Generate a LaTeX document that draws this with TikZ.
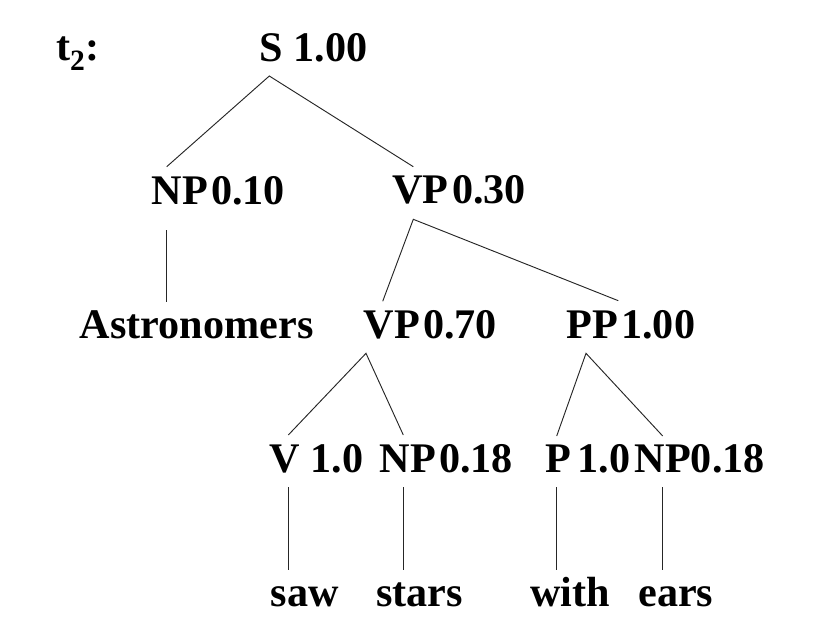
\documentclass[tikz,border=0pt]{standalone}
\usepackage{fontspec}
\setmainfont{Liberation Serif}
\usetikzlibrary{positioning}

\newcommand{\gap}{\hspace{0.08em}}

\begin{document}
\begin{tikzpicture}[
    x=0.03cm, y=-0.03cm,
    label/.style={anchor=base, inner sep=0pt, font=\fontsize{36}{42}\selectfont\bfseries},
    branch/.style={draw, line width=0.8pt, black!85}
]
\useasboundingbox (0,0) rectangle (831,635);

% Tree name
\node[label] (tname) at (77.8,60.7) {t\textsubscript{2}:};

% Categories
\node[label] (s) at (313.3,61) {S 1.00};
\node[label] (np1) at (218.3,204.5) {NP\gap0.10};
\node[label] (vp1) at (459.2,203.5) {VP\gap0.30};
\node[label] (vp2) at (430.3,338) {VP\gap0.70};
\node[label] (pp) at (630.8,338.3) {PP\gap1.00};
\node[label] (v) at (316.3,472.7) {V 1.0};
\node[label] (np2) at (446.3,472.7) {NP\gap0.18};
\node[label, anchor=base west] (p) at (545,472.7) {P\hspace{0.16em}1.0};
\node[label, anchor=base east] (np3) at (765,472.7) {NP0.18};

% Words
\node[label] (astro) at (196.7,338.3) {Astronomers};
\node[label] (saw) at (304.7,606.7) {saw};
\node[label] (stars) at (419.7,606.7) {stars};
\node[label] (with) at (570.3,606.7) {with};
\node[label] (ears) at (675.8,606.7) {ears};

% Attachment points
\coordinate (s-dn) at (269.3,76);
\coordinate (np1-up) at (166.7,166.7);
\coordinate (vp1-up) at (413.3,166.7);
\coordinate (np1-dn) at (166.7,230);
\coordinate (astro-up) at (166.7,301.7);
\coordinate (vp1-dn) at (413.3,219.3);
\coordinate (vp2-up) at (382.7,301.3);
\coordinate (pp-up) at (618.3,300.7);
\coordinate (vp2-dn) at (366,353.3);
\coordinate (v-up) at (288.3,435);
\coordinate (np2-up) at (403.3,435);
\coordinate (pp-dn) at (586,353.3);
\coordinate (p-up) at (556.7,436);
\coordinate (np3-up) at (662.7,436);
\coordinate (v-dn) at (288.3,487);
\coordinate (saw-up) at (288.3,569.5);
\coordinate (np2-dn) at (403.3,487);
\coordinate (stars-up) at (403.3,569.5);
\coordinate (p-dn) at (556.7,487);
\coordinate (with-up) at (556.7,569.5);
\coordinate (np3-dn) at (662.7,487);
\coordinate (ears-up) at (662.7,569.5);

% Branches
\draw[branch] (np1-up) -- (s-dn) -- (vp1-up);
\draw[branch] (np1-dn) -- (astro-up);
\draw[branch] (vp2-up) -- (vp1-dn) -- (pp-up);
\draw[branch] (v-up) -- (vp2-dn) -- (np2-up);
\draw[branch] (p-up) -- (pp-dn) -- (np3-up);
\draw[branch] (v-dn) -- (saw-up);
\draw[branch] (np2-dn) -- (stars-up);
\draw[branch] (p-dn) -- (with-up);
\draw[branch] (np3-dn) -- (ears-up);

\end{tikzpicture}
\end{document}
